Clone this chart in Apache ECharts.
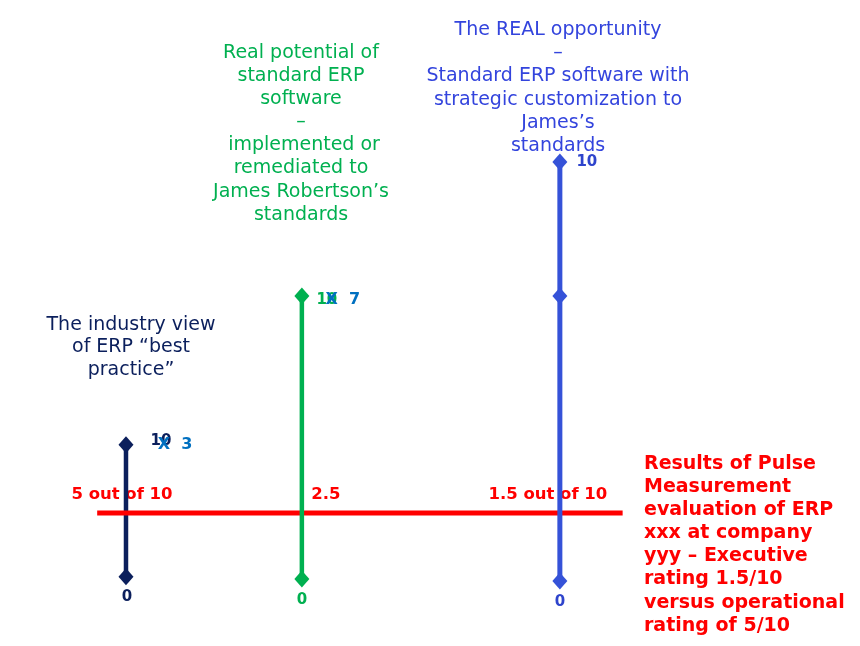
<!DOCTYPE html>
<html>
<head>
<meta charset="utf-8">
<script src="https://cdn.jsdelivr.net/npm/echarts@6/dist/echarts.min.js"></script>
<style>
html,body{margin:0;padding:0;background:#fff;}
#chart{width:860px;height:646px;}
</style>
</head>
<body>
<div id="chart"></div>
<script>
// ---- data ----
const columnNames = ['Industry view', 'Real potential', 'REAL opportunity'];
const columnX = [14.65, 35.1, 65.1];          // horizontal position of each scale (0-100)
const columnBottom = [0.1, 0.05, 0];          // bottom of each scale (rating units)
const columnTop = [3.25, 6.8, 10];            // top of each scale (rating units)
const columnMid = [null, null, 6.8];          // intermediate marker
const topLabels = ['10', '10', '10'];
const xLabels = ['X  3', 'X  7', ''];
const bottomLabels = ['0', '0', '0'];
const pulseLevel = 1.62;                      // red line level
const pulseRange = [11.3, 72.4];
const pulseLabels = ['5 out of 10', '2.5', '1.5 out of 10'];

const industryText = ['The industry view', 'of ERP \u201cbest', 'practice\u201d'];
const potentialText = ['Real potential of', 'standard ERP', 'software', '\u2013', ' implemented or', 'remediated to', 'James Robertson\u2019s', 'standards'];
const opportunityText = ['The REAL opportunity', '\u2013', 'Standard ERP software with', 'strategic customization to', 'James\u2019s', 'standards'];
const pulseText = ['Results of Pulse', 'Measurement', 'evaluation of ERP', 'xxx at company', 'yyy \u2013 Executive', 'rating 1.5/10', 'versus operational', 'rating of 5/10'];

// ---- styles ----
const FONT = '"DejaVu Sans", Verdana, sans-serif';
const colColors = ['#0B1F5C', '#00B050', '#3552D8'];
const labelColors = ['#0B1F5C', '#00B050', '#2E44CC'];
const lineWidths = [4.5, 4.5, 5];
const topOffsets = [[35, -4], [25, 4], [27, 0]];
const xOffsets = [[49, 0], [41, 4], [0, 0]];
const bottomOffsets = [[1, 20], [0, 21], [0, 21]];
const pulseOffsets = [[-4, -18], [24, -18], [-12, -18]];
const RED = '#FF0000';

const chart = echarts.init(document.getElementById('chart'), null, {renderer: 'canvas'});

function columnSeries(i) {
  const data = [];
  data.push({
    value: [columnX[i], columnBottom[i]],
    label: {show: true, position: 'inside', formatter: bottomLabels[i], offset: bottomOffsets[i],
      color: labelColors[i], fontFamily: FONT, fontWeight: 'bold', fontSize: 15}
  });
  if (columnMid[i] !== null) data.push({value: [columnX[i], columnMid[i]]});
  data.push({
    value: [columnX[i], columnTop[i]],
    label: {show: true, position: 'inside', formatter: topLabels[i], offset: topOffsets[i],
      color: labelColors[i], fontFamily: FONT, fontWeight: 'bold', fontSize: 15}
  });
  return {
    name: columnNames[i],
    type: 'line',
    data: data,
    symbol: 'diamond',
    symbolSize: [15, 17],
    showAllSymbol: true,
    clip: false,
    animation: false,
    itemStyle: {color: colColors[i]},
    lineStyle: {color: colColors[i], width: lineWidths[i]},
    label: {show: false},
    emphasis: {disabled: true},
    z: 3 + i
  };
}

const series = [];
series.push(columnSeries(0));
series.push({
  name: 'Pulse',
  type: 'line',
  data: [[pulseRange[0], pulseLevel], [pulseRange[1], pulseLevel]],
  symbol: 'none',
  clip: false,
  animation: false,
  lineStyle: {color: RED, width: 5},
  emphasis: {disabled: true},
  z: 3
});
series.push(columnSeries(1));
series.push(columnSeries(2));
series.push({
  name: 'Pulse labels',
  type: 'scatter',
  symbolSize: 0,
  clip: false,
  animation: false,
  emphasis: {disabled: true},
  itemStyle: {opacity: 1},
  data: columnX.map((x, i) => ({
    value: [x, pulseLevel],
    label: {show: true, position: 'inside', formatter: pulseLabels[i], offset: pulseOffsets[i],
      color: RED, opacity: 1, fontFamily: FONT, fontWeight: 'bold', fontSize: 16.5}
  })),
  z: 2
});
series.push({
  name: 'X labels',
  type: 'scatter',
  symbolSize: 0,
  clip: false,
  animation: false,
  emphasis: {disabled: true},
  data: columnX.map((x, i) => ({
    value: [x, columnTop[i]],
    label: {show: xLabels[i] !== '', position: 'inside', formatter: xLabels[i], offset: xOffsets[i],
      color: '#0070C0', opacity: 1, fontFamily: FONT, fontWeight: 'bold', fontSize: 16}
  })),
  z: 8
});

function textBlock(lines, x, y, color, align, bold, lh, size) {
  return {
    type: 'text',
    x: x, y: y,
    z: 10,
    style: {
      text: lines.join('\n'),
      fill: color,
      font: (bold ? 'bold ' : '') + size + 'px ' + FONT,
      align: align,
      verticalAlign: 'top',
      lineHeight: lh
    }
  };
}

chart.setOption({
  animation: false,
  backgroundColor: '#ffffff',
  grid: {left: 0, right: 0, top: 162, bottom: 65},
  xAxis: {type: 'value', min: 0, max: 100, show: false},
  yAxis: {type: 'value', min: 0, max: 10, show: false},
  series: series,
  graphic: [
    textBlock(industryText, 131, 313.5, '#0B1F5C', 'center', false, 22.5, 19),
    textBlock(potentialText, 301, 41.5, '#00B050', 'center', false, 23.1, 19),
    textBlock(opportunityText, 558, 18.5, '#3344DD', 'center', false, 23.2, 19),
    textBlock(pulseText, 644, 452.5, RED, 'left', true, 23.1, 19)
  ]
});
</script>
</body>
</html>
